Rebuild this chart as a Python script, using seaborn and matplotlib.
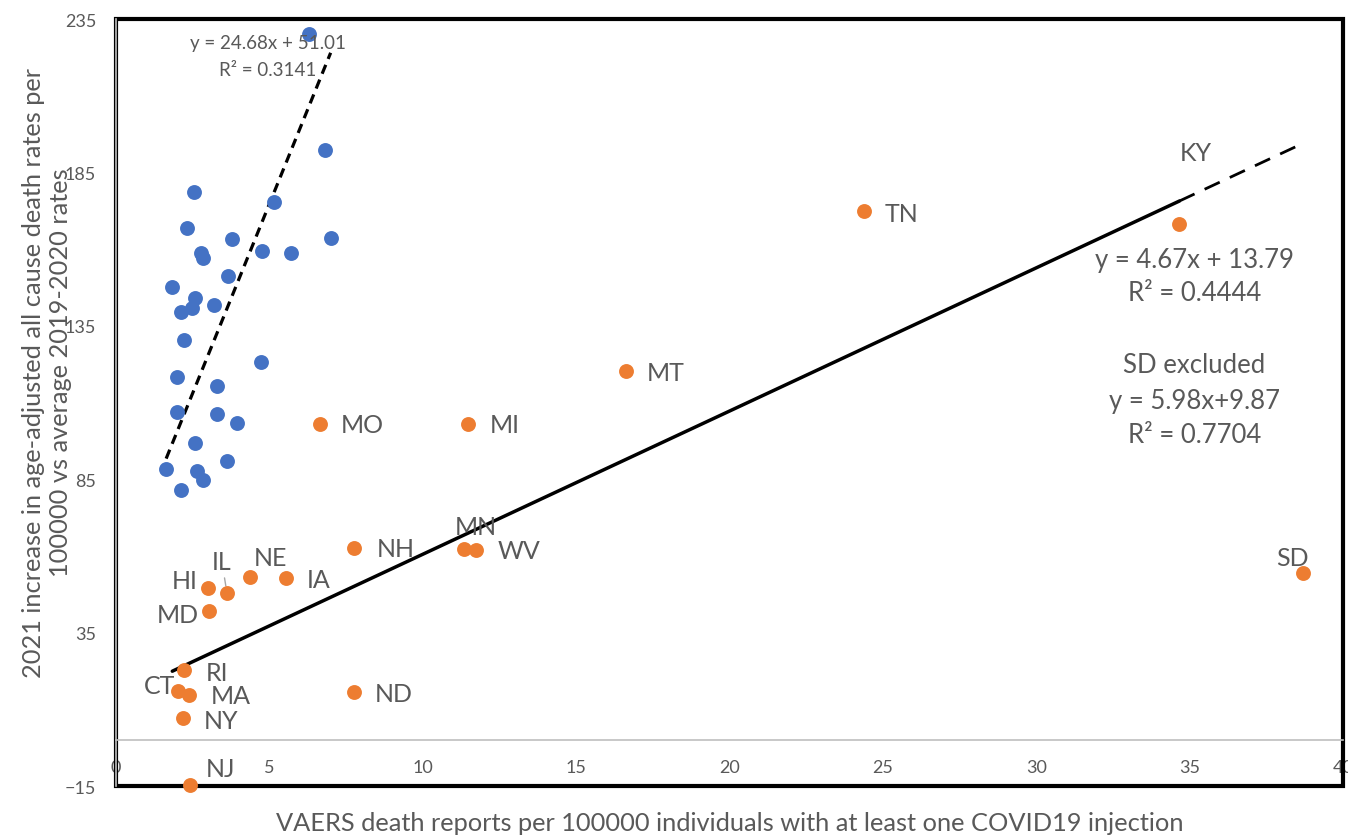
import numpy as np
import pandas as pd
import seaborn as sns
import matplotlib.pyplot as plt
from matplotlib.patches import Rectangle

# unlabelled states (blue)
blue_x = [6.31, 6.83, 2.56, 5.15, 2.32, 3.80, 7.01, 2.78, 2.86, 4.76, 5.71, 3.67,
          1.85, 2.59, 2.49, 2.13, 3.21, 2.22, 4.74, 2.01, 3.31, 2.00, 3.32, 3.96,
          2.60, 3.64, 1.65, 2.64, 2.86, 2.12]
blue_y = [230.3, 192.4, 178.7, 175.3, 166.8, 163.3, 163.7, 158.7, 157.0, 159.5, 158.8, 151.2,
          147.7, 144.1, 140.9, 139.4, 141.8, 130.4, 123.1, 118.2, 115.5, 107.0, 106.4, 103.5,
          96.9, 91.0, 88.4, 87.6, 84.8, 81.6]

# labelled states (orange)
states = ["MO", "MI", "MT", "MN", "WV", "TN", "KY", "SD", "NH", "NE", "IA",
          "HI", "IL", "MD", "RI", "CT", "MA", "ND", "NY", "NJ"]
state_x = [6.65, 11.49, 16.64, 11.37, 11.74, 24.38, 34.67, 38.68, 7.78, 4.39, 5.54,
           3.02, 3.63, 3.03, 2.24, 2.05, 2.40, 7.76, 2.19, 2.43]
state_y = [103.0, 102.9, 120.3, 62.2, 62.0, 172.4, 168.3, 54.6, 62.6, 53.2, 52.8,
           49.4, 48.0, 42.1, 22.7, 16.0, 14.8, 15.5, 7.1, -14.7]

# trend lines as printed on the chart
blue_fit = (24.68, 51.01)
state_fit = (4.67, 13.79)
state_fit_start = 1.85

blue_eq = ["y = 24.68x + 51.01", "R² = 0.3141"]
state_eq = ["y = 4.67x + 13.79", "R² = 0.4444", "", "SD excluded", "y = 5.98x+9.87", "R² = 0.7704"]

# label offsets in pixels (dx right, dy down) and alignment
label_pos = {
    "MO": (21, 0, "left"), "MI": (22, 0, "left"), "MT": (21, 2, "left"),
    "MN": (11, -23, "center"), "WV": (22, 1, "left"), "TN": (21, 2, "left"),
    "KY": (16, -71, "center"), "SD": (-10, -15, "center"), "NH": (22, 1, "left"),
    "NE": (20, -19, "center"), "IA": (21, 1, "left"), "HI": (-11, -8, "right"),
    "IL": (-5, -31, "center"), "MD": (-10, 4, "right"), "RI": (21, 2, "left"),
    "CT": (-3, -5, "right"), "MA": (22, 1, "left"), "ND": (21, 1, "left"),
    "NY": (21, 2, "left"), "NJ": (16, -17, "left"),
}

blue = "#4472C4"
orange = "#ED7D31"
grey = "#595959"

sns.set_style("white")
plt.rcParams["font.family"] = ["Lato", "DejaVu Sans"]

fig, ax = plt.subplots(figsize=(13.48, 8.37), dpi=100)
fig.subplots_adjust(left=0.0857, right=0.9963, bottom=0.0597, top=0.976)

df_blue = pd.DataFrame({"x": blue_x, "y": blue_y})
df_states = pd.DataFrame({"state": states, "x": state_x, "y": state_y})

sns.scatterplot(data=df_blue, x="x", y="y", color=blue, s=115, linewidth=0, ax=ax, zorder=4)
sns.scatterplot(data=df_states, x="x", y="y", color=orange, s=115, linewidth=0, ax=ax,
                zorder=4, clip_on=False)

# blue trend (dashed, over the blue x range)
bx = np.array([min(blue_x), max(blue_x)])
ax.plot(bx, blue_fit[0] * bx + blue_fit[1], color="black", lw=2.3, ls=(0, (3, 2)), zorder=3)

# orange trend: solid up to KY, dashed on to SD
ky = state_x[states.index("KY")]
sd = state_x[states.index("SD")]
sx = np.array([state_fit_start, ky])
ax.plot(sx, state_fit[0] * sx + state_fit[1], color="black", lw=2.5, zorder=3)
dx = np.array([ky, sd])
ax.plot(dx, state_fit[0] * dx + state_fit[1], color="black", lw=2, ls=(0, (6, 4)), zorder=3)

for st, x, y in zip(states, state_x, state_y):
    ddx, ddy, ha = label_pos[st]
    if st == "IL":
        ax.annotate(st, xy=(x, y), xytext=(ddx * 0.72, -ddy * 0.72), textcoords="offset points",
                    ha=ha, va="center", fontsize=18, color=grey,
                    arrowprops=dict(arrowstyle="-", color="#a6a6a6", lw=1, shrinkA=1, shrinkB=5))
    else:
        ax.annotate(st, xy=(x, y), xytext=(ddx * 0.72, -ddy * 0.72), textcoords="offset points",
                    ha=ha, va="center", fontsize=18, color=grey, zorder=5)

for line, yy in zip(blue_eq, [0.970, 0.934]):
    ax.text(0.124, yy, line, transform=ax.transAxes, ha="center", va="center",
            fontsize=13.5, color=grey, zorder=5)
for line, yy in zip(state_eq, [0.687, 0.643, 0.596, 0.549, 0.503, 0.458]):
    ax.text(0.879, yy, line, transform=ax.transAxes, ha="center", va="center",
            fontsize=18.5, color=grey)

ax.set_xlim(0, 40)
ax.set_ylim(-15, 235)
ax.set_xticks(range(0, 41, 5))
ax.set_yticks(np.arange(-15, 236, 50))

for side in ["top", "right"]:
    ax.spines[side].set_visible(False)
ax.spines["bottom"].set_position(("data", 0))
ax.spines["bottom"].set_color("#bfbfbf")
ax.spines["left"].set_color("#bfbfbf")
ax.spines["bottom"].set_linewidth(1.2)
ax.spines["left"].set_linewidth(1.2)

ax.tick_params(length=0, labelsize=13, labelcolor=grey)
ax.tick_params(axis="x", pad=14)
ax.tick_params(axis="y", pad=14)

ax.add_patch(Rectangle((0, 0), 1, 1, transform=ax.transAxes, fill=False,
                       ec="black", lw=3, clip_on=False, zorder=2))

ax.set_xlabel("VAERS death reports per 100000 individuals with at least one COVID19 injection",
              fontsize=18.3, color=grey)
ax.xaxis.set_label_coords(0.5, -0.032)
ax.set_ylabel("2021 increase in age-adjusted all cause death rates per\n100000 vs average 2019-2020 rates",
              fontsize=18.3, color=grey, va="center", linespacing=1.2)
ax.yaxis.set_label_coords(-0.0558, 0.54)

plt.savefig("out.png", dpi=100)
